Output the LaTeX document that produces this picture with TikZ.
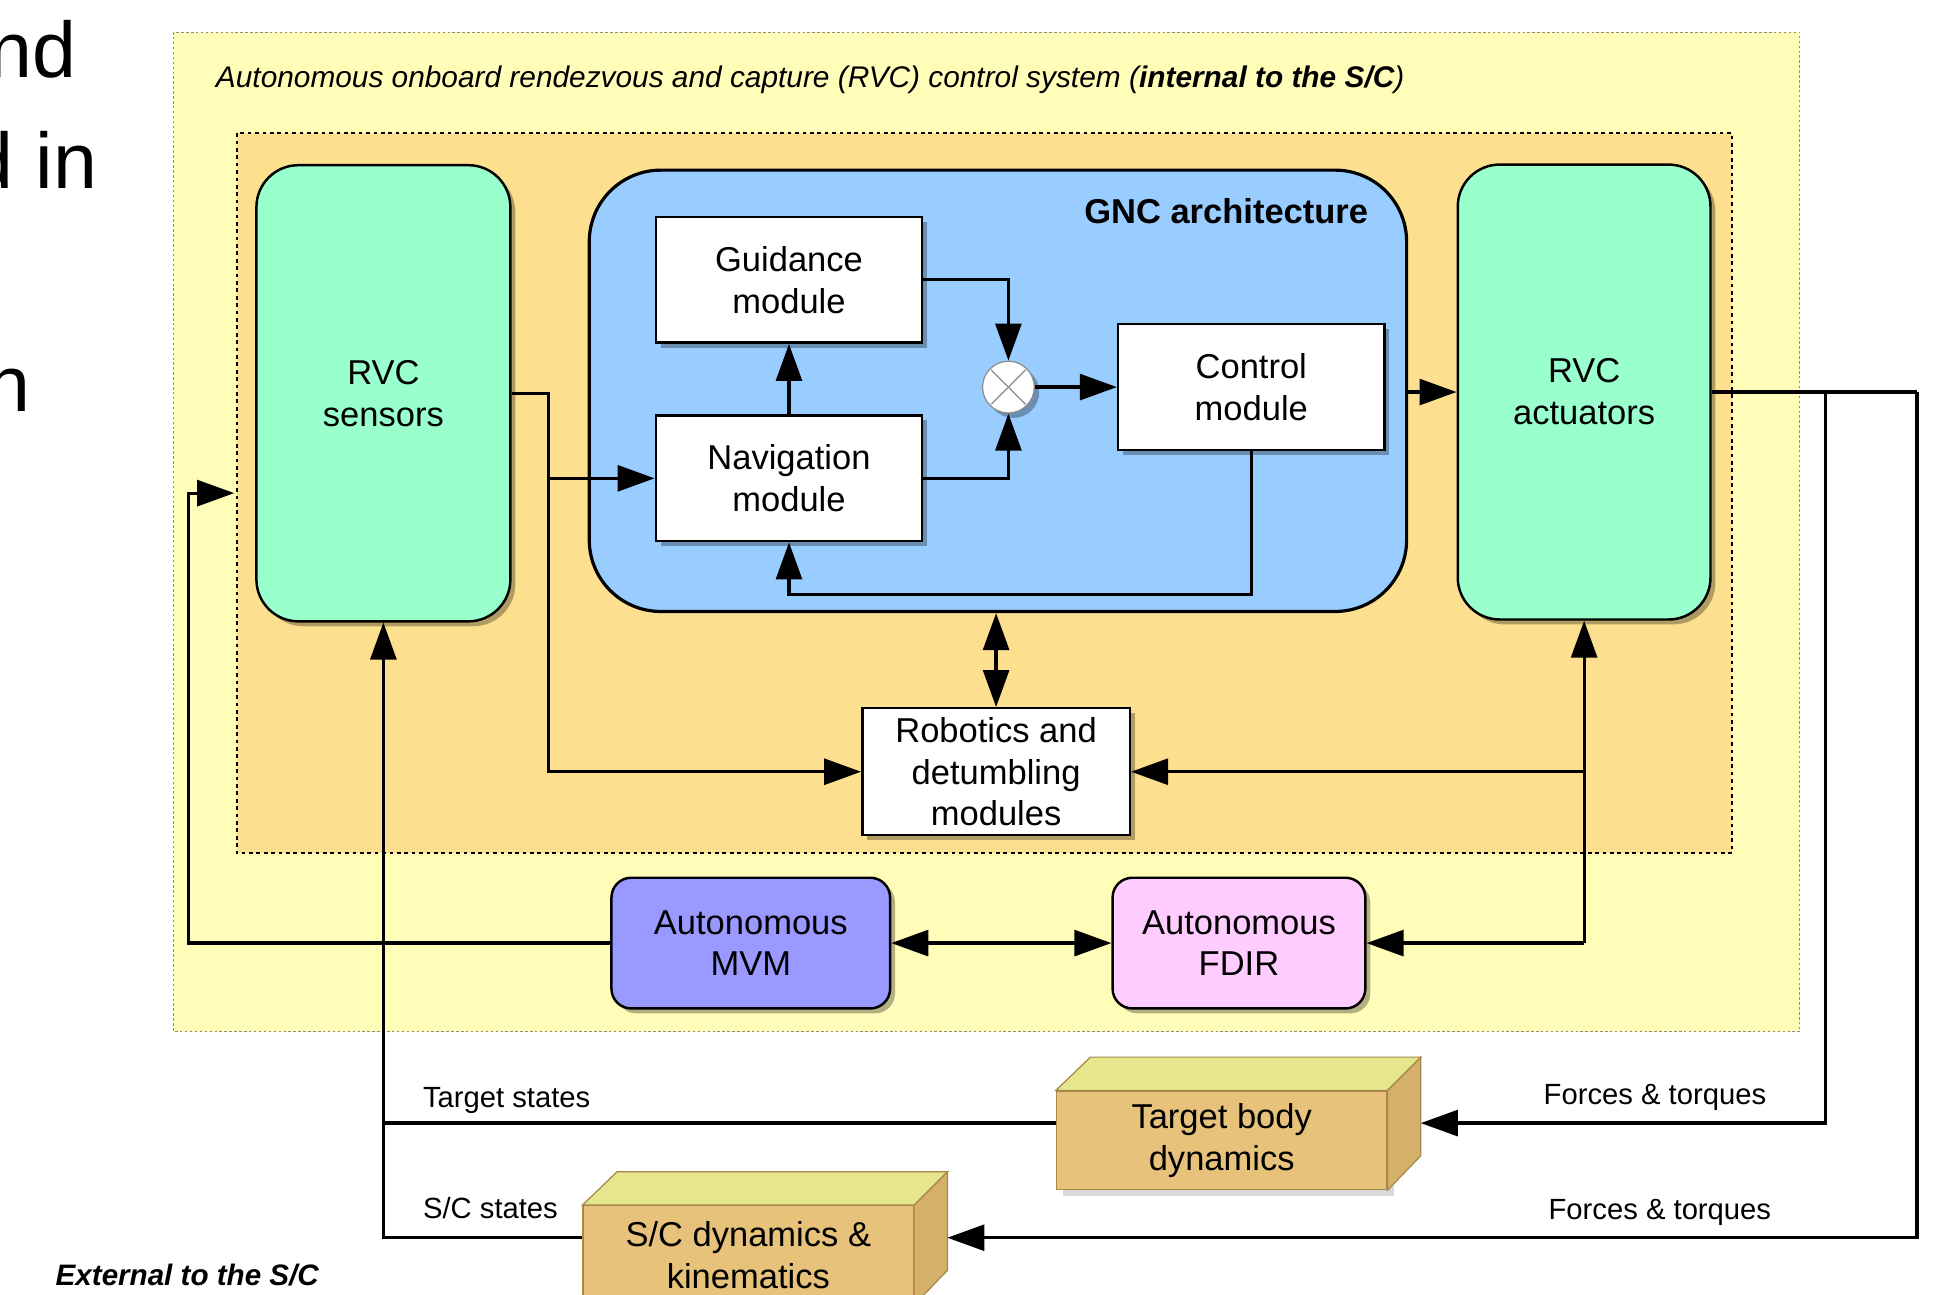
\documentclass[tikz,border=0pt]{standalone}
\usepackage{fontspec}
\setmainfont{Liberation Sans}
\usetikzlibrary{arrows.meta,shadows,calc}
\definecolor{outerY}{HTML}{FFFDB8}
\definecolor{orangeB}{HTML}{FDE08F}
\definecolor{mint}{HTML}{99FFCC}
\definecolor{gncblue}{HTML}{99CCFF}
\definecolor{mvmc}{HTML}{9999FF}
\definecolor{fdirc}{HTML}{FFCCFF}
\definecolor{boxfront}{HTML}{E6C27A}
\definecolor{boxtop}{HTML}{E6E68C}
\definecolor{boxside}{HTML}{D4B06A}
\definecolor{boxedge}{HTML}{A8884A}
\begin{document}
\begin{tikzpicture}[x=1pt,y=-1pt,
  conn/.style={line width=2.6pt},
  tip/.tip={Triangle[length=30pt,width=21pt]},
  arr/.style={conn,-tip},
  darr/.style={conn,tip-tip},
  shad/.style={drop shadow={shadow xshift=4pt,shadow yshift=-4pt,opacity=0.3,fill=black}},
  lbl/.style={font=\fontsize{28}{34}\selectfont,align=center},
  modbox/.style={lbl,draw,line width=2pt,fill=white,inner sep=0pt,minimum width=216pt,minimum height=102pt,shad},
  mintbox/.style={lbl,draw,line width=2pt,fill=mint,rounded corners=34pt,inner sep=0pt,shad},
  autobox/.style={lbl,draw,line width=2pt,rounded corners=16pt,inner sep=0pt,minimum height=106pt,shad},
  front/.style={lbl,draw=boxedge,line width=1pt,fill=boxfront,inner sep=0pt,minimum width=268pt,minimum height=80pt},
  small/.style={font=\fontsize{23.7}{28}\selectfont,anchor=base west,inner sep=0pt},
  big/.style={font=\fontsize{64}{76}\selectfont,anchor=base east,inner sep=0pt}
]
\useasboundingbox (0,0) rectangle (1568,1050);
\fill[white] (0,0) rectangle (1568,1050);
% slide text fragments
\node[big] (t1) at (62,63) {nd};
\node[big] (t2) at (79,153) {d in};
\node[big] (t3) at (25,334) {n};
% outer region
\draw[fill=outerY,draw=black!45,line width=0.8pt,dash pattern=on 2pt off 2pt] (141,26) rectangle (1460,837);
\node[anchor=base west,inner sep=0pt,font=\fontsize{24.2}{29}\selectfont\itshape] (title) at (175,71)
  {Autonomous onboard rendezvous and capture (RVC) control system (\textbf{internal to the S/C})};
% orange region
\draw[fill=orangeB,draw=black,line width=1.5pt,dash pattern=on 3pt off 3pt] (192,108) rectangle (1405,692);
% main blocks
\node[mintbox,minimum width=206pt,minimum height=370pt] (sens) at (311,319) {RVC\\sensors};
\node[mintbox,minimum width=205pt,minimum height=369pt] (act) at (1285,318) {RVC\\actuators};
\node[draw,line width=2.6pt,fill=gncblue,rounded corners=58pt,minimum width=663pt,minimum height=358pt,inner sep=0pt] (gnc) at (809.5,317) {};
\node[anchor=east,inner sep=0pt,font=\fontsize{28}{34}\selectfont\bfseries] (gnct) at (1110,171) {GNC architecture};
\node[modbox] (guid) at (640,227) {Guidance\\module};
\node[modbox] (nav) at (640,388) {Navigation\\module};
\node[modbox] (ctrl) at (1015,314) {Control\\module};
\node[circle,draw=black!45,line width=1pt,fill=white,minimum size=42pt,inner sep=0pt,shad] (sum) at (818,314) {};
\draw[black!45,line width=1pt] ($(sum.center)+(-14,-14)$) -- ($(sum.center)+(14,14)$)
  ($(sum.center)+(-14,14)$) -- ($(sum.center)+(14,-14)$);
\node[modbox,minimum width=217pt,minimum height=103pt] (rob) at (808,626) {Robotics and\\detumbling\\modules};
\node[autobox,fill=mvmc,minimum width=226pt] (mvm) at (609,765) {Autonomous\\MVM};
\node[autobox,fill=fdirc,minimum width=205pt] (fdir) at (1005,765) {Autonomous\\FDIR};
% 3D boxes
\fill[black!15] (862,889) rectangle (1131,970);
\node[front] (tgt) at (991,925) {Target body\\dynamics};
\draw[fill=boxtop,draw=boxedge,line width=1pt] (tgt.north west) -- ++(28,-27) -- ($(tgt.north east)+(27,-27)$) -- (tgt.north east) -- cycle;
\draw[fill=boxside,draw=boxedge,line width=1pt] (tgt.north east) -- ++(27,-27) -- ++(0,80) -- (tgt.south east) -- cycle;
\node[front] (scd) at (607,1018) {S/C dynamics \&\\kinematics};
\draw[fill=boxtop,draw=boxedge,line width=1pt] (scd.north west) -- ++(28,-27) -- ($(scd.north east)+(27,-27)$) -- (scd.north east) -- cycle;
\draw[fill=boxside,draw=boxedge,line width=1pt] (scd.north east) -- ++(27,-27) -- ++(0,80) -- (scd.south east) -- cycle;
% junction coordinates
\coordinate (j1) at (445,319);
\coordinate (j2) at (445,388);
\coordinate (j3) at (1285,626);
\coordinate (j4) at (1285,765);
\coordinate (j5) at (1481,318);
\coordinate (j6) at (1555,318);
\coordinate (j7) at (311,911);
\coordinate (j8) at (153,765);
\coordinate (j9) at (190,400);
\coordinate (tr) at ($(tgt.east)+(27,-14)$);
\coordinate (sr) at ($(scd.east)+(27,-14)$);
% connectors
\draw[conn] (sens.east) -- (j1) -- (j2);
\draw[arr] (j2) -- (nav.west);
\draw[arr] (j2) |- (rob.west);
\draw[arr] (nav.north) -- (guid.south);
\draw[arr] (guid.east) -| (sum.north);
\draw[arr] (nav.east) -| (sum.south);
\draw[arr] (sum.east) -- (ctrl.west);
\draw[arr] (ctrl.south) -- (1015,482) -| (nav.south);
\draw[arr] (gnc.east |- act.west) -- (act.west);
\draw[darr] (gnc.south -| rob.north) -- (rob.north);
\draw[arr] (j4) -- (act.south);
\draw[arr] (j3) -- (rob.east);
\draw[arr] (j4) -- (fdir.east);
\draw[darr] (mvm.east) -- (fdir.west);
\draw[arr] (mvm.west) -- (j8) |- (j9);
\draw[conn] (act.east) -- (j6);
\draw[arr] (j6) |- (sr);
\draw[arr] (j5) |- (tr);
\draw[arr] (tgt.west |- tr) -| (sens.south);
\draw[conn] (scd.west |- sr) -| (j7);
% labels
\node[small] (l1) at (343,898) {Target states};
\node[small] (l2) at (343,988) {S/C states};
\node[small] (l3) at (1252,896) {Forces \& torques};
\node[small] (l4) at (1256,989) {Forces \& torques};
\node[small,font=\fontsize{24}{28}\selectfont\bfseries\itshape] (ext) at (45,1043) {External to the S/C};
\end{tikzpicture}
\end{document}
